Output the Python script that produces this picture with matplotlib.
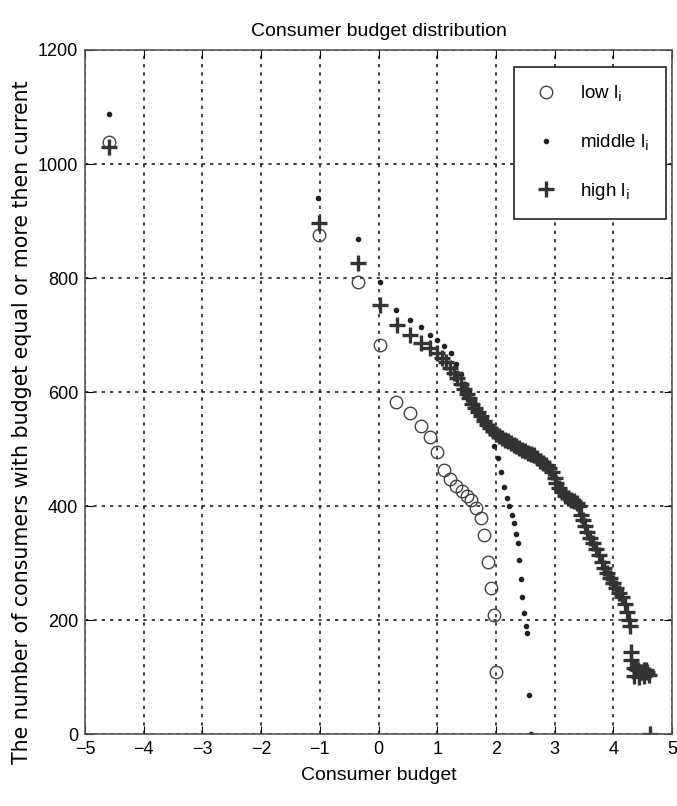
import numpy as np
import matplotlib
matplotlib.use('Agg')
from matplotlib import pyplot as plt

# low l_i  (open circles)
low_x = [-4.6, -1.02, -0.35, 0.03, 0.30, 0.53, 0.73, 0.88, 0.99, 1.12, 1.22, 1.32,
         1.43, 1.50, 1.58, 1.66, 1.75, 1.80, 1.86, 1.92, 1.97, 2.01]
low_y = [1039, 876, 793, 683, 582, 563, 540, 522, 495, 463, 448, 436,
         426, 418, 410, 396, 379, 349, 302, 256, 209, 110]

# middle l_i  (dots)
mid_x = [-4.6, -1.03, -0.35, 0.02, 0.30, 0.53, 0.73, 0.87, 0.99, 1.12, 1.24, 1.32,
         1.40, 1.48, 1.55, 1.62, 1.70, 1.78, 1.85, 1.92, 1.97, 2.03, 2.08, 2.14,
         2.19, 2.23, 2.27, 2.31, 2.34, 2.37, 2.40, 2.43, 2.45, 2.48, 2.51, 2.53,
         2.57, 2.60]
mid_y = [1087, 940, 868, 793, 744, 726, 714, 700, 691, 681, 668, 650,
         632, 615, 600, 585, 570, 556, 543, 528, 505, 485, 460, 434,
         415, 400, 385, 370, 352, 335, 305, 272, 241, 212, 190, 177,
         68, 0]

# high l_i  (plus signs)
high_x = [-4.6, -1.02, -0.35, 0.02, 0.32, 0.53, 0.73, 0.87, 0.99, 1.08, 1.15, 1.22,
          1.28, 1.34, 1.40, 1.45, 1.50, 1.55, 1.60, 1.65, 1.70, 1.75, 1.80, 1.85,
          1.90, 1.95, 2.00, 2.05, 2.10, 2.15, 2.20, 2.25, 2.30, 2.35, 2.40, 2.45,
          2.50, 2.55, 2.60, 2.65, 2.70, 2.75, 2.80, 2.85, 2.90, 2.95, 3.00, 3.03,
          3.07, 3.12, 3.17, 3.22, 3.28, 3.33, 3.38, 3.42, 3.45, 3.48, 3.52, 3.56,
          3.60, 3.65, 3.70, 3.75, 3.80, 3.85, 3.90, 3.95, 4.00, 4.05, 4.10, 4.15,
          4.20, 4.24, 4.27, 4.29, 4.30, 4.31, 4.35, 4.38, 4.42, 4.45, 4.48, 4.52,
          4.55, 4.58, 4.36, 4.44, 4.52, 4.60, 4.62]
high_y = [1030, 896, 827, 753, 717, 700, 686, 678, 668, 660, 652, 643,
          633, 624, 614, 605, 597, 589, 580, 573, 565, 558, 550, 543,
          537, 532, 527, 523, 519, 516, 514, 511, 508, 505, 502, 499,
          497, 494, 492, 489, 485, 480, 476, 472, 467, 460, 450, 440,
          432, 425, 418, 414, 411, 409, 406, 400, 385, 375, 365, 355,
          345, 336, 325, 314, 302, 292, 283, 274, 265, 256, 248, 240,
          228, 215, 200, 190, 145, 130, 117, 114, 112, 110, 110, 112,
          112, 110, 102, 101, 102, 104, 0]

xticks = [-5, -4, -3, -2, -1, 0, 1, 2, 3, 4, 5]
yticks = [0, 200, 400, 600, 800, 1000, 1200]

narrow = ['Liberation Sans', 'DejaVu Sans']

fig = plt.figure(figsize=(6.77, 8.06), dpi=100)
ax = fig.add_axes([0.1256, 0.089, 0.867, 0.849])

ax.plot(low_x, low_y, 'o', mfc='none', mec='#444444', ms=9, mew=1.0, label=r'low l$_\mathrm{i}$')
ax.plot(mid_x, mid_y, '.', color='#222222', ms=6, label=r'middle l$_\mathrm{i}$')
ax.plot(high_x, high_y, '+', color='#333333', ms=11, mew=2.4, label=r'high l$_\mathrm{i}$')

ax.set_xlim(-5, 5)
ax.set_ylim(0, 1200)
ax.set_xticks(xticks)
ax.set_yticks(yticks)
ax.grid(True, linestyle=(0, (2, 3)), color='#222222', linewidth=1.2)
ax.tick_params(direction='in', top=True, right=True, length=6, labelsize=13, pad=5)
for lab in ax.get_xticklabels() + ax.get_yticklabels():
    lab.set_family(narrow)
for s in ax.spines.values():
    s.set_color('#555555')
    s.set_linewidth(1.2)

ax.set_title('Consumer budget distribution', family=narrow, fontsize=14, pad=10)
ax.set_xlabel('Consumer budget', family=narrow, fontsize=14, labelpad=6)
ax.set_ylabel('The number of consumers with budget equal or more then current',
              fontsize=14.8)
ax.yaxis.set_label_coords(-0.09, 0.456)

leg = ax.legend(loc='upper right', bbox_to_anchor=(0.99, 0.975), labelspacing=1.5,
                fancybox=False, edgecolor='#222222', framealpha=1, borderpad=0.9,
                handlelength=1.6, handletextpad=1.0, borderaxespad=0,
                prop={'family': narrow, 'size': 13.5})
leg.get_frame().set_linewidth(1.2)

fig.savefig('out.png', dpi=100)
